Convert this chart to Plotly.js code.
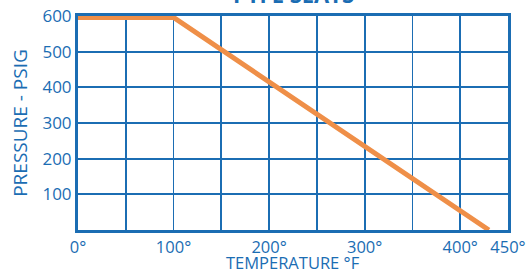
<!DOCTYPE html>
<html><head><meta charset="utf-8">
<script src="https://cdn.plot.ly/plotly-3.0.1.min.js"></script>
<style>html,body{margin:0;padding:0;background:#fff}#c{width:526px;height:273px}</style>
</head><body><div id="c"></div>
<script>
const temperature = [0, 100, 430];
const pressure = [596, 596, 0];
const xTickVals = [0, 50, 100, 150, 200, 250, 300, 350, 400, 450];
const xTickText = ['0°', '', '100°', '', '200°', '', '300°', '', '400°', '450°'];
const yTickVals = [100, 200, 300, 400, 500, 600];
const yTickText = ['100', '200', '300', '400', '500', '600'];
const blue = '#1b6db3';
const orange = '#ef8f48';
const font = 'Open Sans, Lato, sans-serif';
Plotly.newPlot('c', [{
  x: temperature, y: pressure, type: 'scatter', mode: 'lines',
  line: {color: orange, width: 5}, hoverinfo: 'skip', cliponaxis: false
}], {
  width: 526, height: 273,
  margin: {l: 78, r: 18, t: 16, b: 43},
  paper_bgcolor: '#fff', plot_bgcolor: '#fff',
  showlegend: false,
  font: {family: font, color: blue},
  xaxis: {
    range: [0, 450], tickmode: 'array', tickvals: xTickVals, ticktext: xTickText,
    showgrid: true, gridcolor: blue, gridwidth: 1.8, zeroline: false,
    showline: true, mirror: true, linecolor: blue, linewidth: 3,
    ticks: '', tickfont: {size: 16.5, color: blue, family: font},
    ticklabeloverflow: 'allow', automargin: false
  },
  yaxis: {
    range: [0, 600], tickmode: 'array', tickvals: yTickVals, ticktext: yTickText,
    showgrid: true, gridcolor: blue, gridwidth: 1.8, zeroline: false,
    showline: true, mirror: true, linecolor: blue, linewidth: 3,
    ticks: '', tickfont: {size: 17, color: blue, family: font}, automargin: false,
    title: {text: 'PRESSURE - PSIG', font: {size: 19, color: blue, family: font}, standoff: 10}
  },
  annotations: [{
    text: '<b>PTFE SEATS</b>', xref: 'paper', yref: 'paper', x: 0.5, y: 1.0,
    yshift: 5, xanchor: 'center', yanchor: 'bottom', showarrow: false,
    font: {size: 22, color: blue, family: font}
  }, {
    text: 'TEMPERATURE °F', xref: 'paper', yref: 'paper', x: 0.5, y: 0,
    yshift: -46, xanchor: 'center', yanchor: 'bottom', showarrow: false,
    font: {size: 16.5, color: blue, family: font}
  }]
}, {staticPlot: true});
</script></body></html>
